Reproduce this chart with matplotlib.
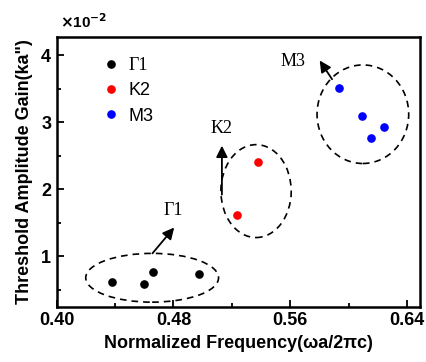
import matplotlib
matplotlib.use("Agg")
import matplotlib.pyplot as plt
from matplotlib.patches import Ellipse

# data (gain in units of 1e-2)
g1_freq = [0.4377, 0.4601, 0.4661, 0.4974]
g1_gain = [0.62, 0.59, 0.77, 0.74]
k2_freq = [0.5235, 0.5379]
k2_gain = [1.62, 2.40]
m3_freq = [0.5937, 0.6093, 0.6157, 0.6241]
m3_gain = [3.51, 3.09, 2.76, 2.93]
labels = ["\u03931", "K2", "M3"]
colors = ["black", "#ff0000", "#0000ff"]

xticks = [0.40, 0.48, 0.56, 0.64]
yticks = [1, 2, 3, 4]

plt.rcParams["font.family"] = ["Liberation Sans", "DejaVu Sans"]
plt.rcParams["font.weight"] = "bold"

fig = plt.figure(figsize=(4.27, 3.62), dpi=100)
ax = fig.add_axes([0.1328, 0.1528, 0.851, 0.745])

ms = 5.2
for fx, gy, lab, c in zip([g1_freq, k2_freq, m3_freq], [g1_gain, k2_gain, m3_gain], labels, colors):
    ax.plot(fx, gy, "o", color=c, ms=ms, mec=c, label=lab, ls="none")

# dashed ellipses around the groups
for (cx, cy, w, h) in [(0.4654, 0.681, 0.091, 0.727),
                       (0.5366, 1.973, 0.0482, 1.385),
                       (0.6098, 3.119, 0.0628, 1.469)]:
    ax.add_patch(Ellipse((cx, cy), w, h, fill=False, ls=(0, (4, 3)), lw=1.2, ec="black"))

serif = ["Liberation Serif", "DejaVu Serif"]
arrow = dict(arrowstyle="-|>", color="black", lw=1.3, mutation_scale=17, shrinkA=0, shrinkB=0)
ax.annotate("", xy=(0.4805, 1.43), xytext=(0.4656, 1.045), arrowprops=arrow)
ax.annotate("", xy=(0.5132, 2.65), xytext=(0.5132, 1.92), arrowprops=arrow)
ax.annotate("", xy=(0.5802, 3.92), xytext=(0.5887, 3.64), arrowprops=arrow)
ax.text(0.4798, 1.68, "\u03931", family=serif, weight="normal", fontsize=13, ha="center", va="center")
ax.text(0.5132, 2.90, "K2", family=serif, weight="normal", fontsize=13, ha="center", va="center")
ax.text(0.5618, 3.90, "M3", family=serif, weight="normal", fontsize=13, ha="center", va="center")

ax.set_xlim(0.40, 0.649)
ax.set_ylim(0.25, 4.27)
ax.set_xticks(xticks)
ax.set_xticklabels(["%.2f" % t for t in xticks])
ax.set_yticks(yticks)
ax.set_xticks([0.44, 0.52, 0.60], minor=True)
ax.set_yticks([0.5, 1.5, 2.5, 3.5], minor=True)
ax.tick_params(which="both", direction="in", width=1.3, labelsize=13, pad=4)
ax.tick_params(which="major", length=5)
ax.tick_params(which="minor", length=3)
for s in ax.spines.values():
    s.set_linewidth(1.8)

ax.set_xlabel("Normalized Frequency(\u03c9a/2\u03c0c)", fontsize=13, fontweight="bold", labelpad=4)
ax.set_ylabel("Threshold Amplitude Gain(ka\")", fontsize=13, fontweight="bold", labelpad=6)
fig.text(0.14, 0.915, r"$\times$10$^{-2}$", fontsize=11, fontweight="bold", ha="left", va="bottom")

leg = ax.legend(loc="upper left", bbox_to_anchor=(0.075, 0.985), frameon=False, fontsize=13,
                handletextpad=0.35, labelspacing=0.45, markerscale=1.0, handlelength=1.2)
leg.get_texts()[0].set_family(serif)
leg.get_texts()[0].set_fontweight("normal")
for t in leg.get_texts()[1:]:
    t.set_fontweight("normal")

fig.savefig("out.png", dpi=100)
